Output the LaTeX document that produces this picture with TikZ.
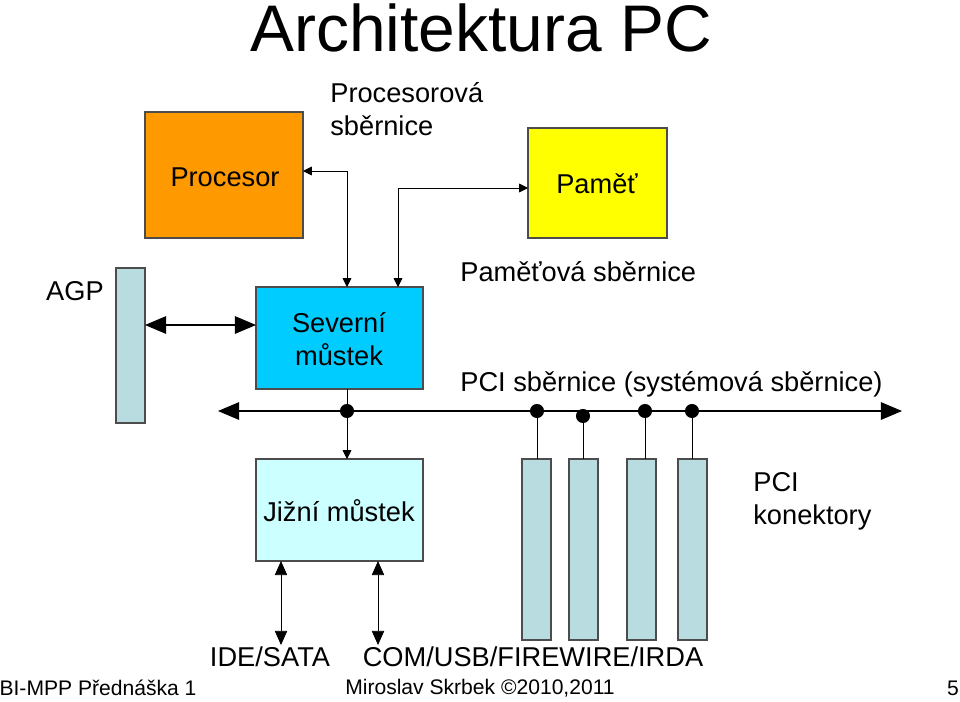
\documentclass[tikz,border=0pt]{standalone}
\usepackage{fontspec}
\setmainfont{Liberation Sans}
\usepackage{tikz}
\usetikzlibrary{arrows.meta}
\definecolor{procfill}{RGB}{255,153,0}
\definecolor{memfill}{RGB}{255,255,0}
\definecolor{nbfill}{RGB}{0,204,255}
\definecolor{sbfill}{RGB}{204,255,255}
\definecolor{slotfill}{RGB}{184,220,224}
\tikzset{
  blok/.style={draw=black!70,thick},
  txt/.style={font=\fontsize{15.5}{19}\selectfont,inner sep=0pt},
  conn/.style={<->,>={Triangle[length=5pt,width=5pt]}},
  midconn/.style={<->,>={Triangle[length=8pt,width=7pt]}},
  bigconn/.style={<->,>={Triangle[length=12pt,width=10pt]},semithick},
  dot/.style={circle,fill=black,inner sep=0pt,minimum size=8pt}
}
\begin{document}
\begin{tikzpicture}[x=0.02cm,y=-0.02cm]
\useasboundingbox (0,0) rectangle (960,701);
\node[font=\fontsize{37.5}{40}\selectfont] (title) at (481,28) {Architektura PC};
% boxes
\fill[procfill,blok] (145,112) rectangle (303,238);
\node[txt] (proc) at (225,177) {Procesor};
\fill[memfill,blok] (528,128) rectangle (667,238);
\node[txt] (mem) at (597,184) {Paměť};
\fill[nbfill,blok] (256,287) rectangle (423,389);
\node[txt,align=center] (nb) at (339,339) {Severní\\můstek};
\fill[sbfill,blok] (256,459) rectangle (423,561);
\node[txt] (sb) at (339,511) {Jižní můstek};
\fill[slotfill,blok] (116,268) rectangle (145,423);
\foreach \x in {522,569,627,678}
  \fill[slotfill,blok] (\x,459) rectangle (\x+29,640);
% labels
\node[txt,align=left,anchor=west] (cpubus) at (330,109) {Procesorová\\sběrnice};
\node[txt] (agp) at (75,291) {AGP};
\node[txt,anchor=west] (membus) at (460,272) {Paměťová sběrnice};
\node[txt,anchor=west] (pcibus) at (460,384) {PCI sběrnice (systémová sběrnice)};
\node[txt,align=left,anchor=west] (pcicon) at (753,501) {PCI\\konektory};
\node[txt] (ide) at (270,657) {IDE/SATA};
\node[txt] (com) at (533,657) {COM/USB/FIREWIRE/IRDA};
% connectors
\coordinate (cpuR) at (303,171);
\coordinate (nbA) at (347,287);
\coordinate (nbB) at (398,287);
\coordinate (memL) at (528,188);
\draw[conn] (cpuR) -| (nbA);
\draw[conn] (memL) -| (nbB);
\draw[bigconn] (145,325) -- (256,325);
\coordinate (busL) at (218,411);
\coordinate (busR) at (902,411);
\draw[bigconn] (busL) -- (busR);
\node[dot] (j0) at (347,411) {};
\draw (347,389) -- (j0);
\draw[conn,-{Triangle[length=5pt,width=5pt]}] (j0) -- (347,459);
\foreach \x/\y in {537/411,583/416,645/411,692/411}{
  \node[dot] (d\x) at (\x,\y) {};
  \draw (d\x) -- (\x,459);
}
\draw[midconn] (281,561) -- (281,645);
\draw[midconn] (378,561) -- (378,645);
% footer
\node[font=\fontsize{12}{14}\selectfont] (f1) at (98,688) {BI-MPP Přednáška 1};
\node[font=\fontsize{12}{14}\selectfont] (f2) at (480,688) {Miroslav Skrbek ©2010,2011};
\node[font=\fontsize{12}{14}\selectfont] (f3) at (953,688) {5};
\end{tikzpicture}
\end{document}
